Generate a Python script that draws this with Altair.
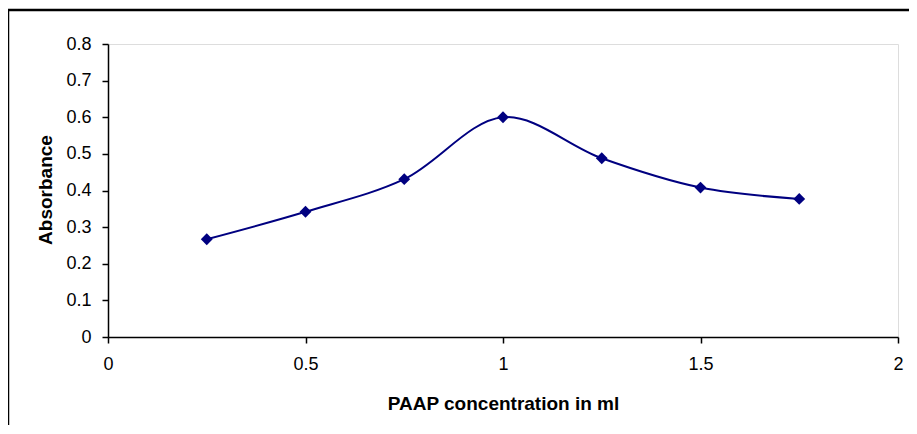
import altair as alt
import pandas as pd

conc = [0.25, 0.5, 0.75, 1.0, 1.25, 1.5, 1.75]
absorbance = [0.267, 0.342, 0.431, 0.600, 0.488, 0.408, 0.377]
x_ticks = [0, 0.5, 1, 1.5, 2]
y_ticks = [0, 0.1, 0.2, 0.3, 0.4, 0.5, 0.6, 0.7, 0.8]

df = pd.DataFrame({"conc": conc, "abs": absorbance})
FONT = "Liberation Sans"
W, H = 790, 293

x = alt.X("conc:Q", scale=alt.Scale(domain=[0, 2], nice=False, zero=False),
          axis=alt.Axis(values=x_ticks, format="~g", title="PAAP concentration in ml", grid=False,
                        domainColor="black", domainWidth=1.5, tickColor="black", tickWidth=1.5,
                        tickSize=6, labelFont=FONT, labelFontSize=18, labelColor="black",
                        labelPadding=12, labelFlush=False,
                        titleFont=FONT, titleFontSize=19, titleFontWeight="bold", titleColor="black",
                        titleX=W / 2, titleY=66, titleAlign="center", titleBaseline="middle"))
y = alt.Y("abs:Q", scale=alt.Scale(domain=[0, 0.8], nice=False),
          axis=alt.Axis(values=y_ticks, format="~g", title="Absorbance", grid=False,
                        domainColor="black", domainWidth=1.5, tickColor="black", tickWidth=1.5,
                        tickSize=6, labelFont=FONT, labelFontSize=18, labelColor="black",
                        labelPadding=11, labelFlush=False,
                        titleFont=FONT, titleFontSize=19, titleFontWeight="bold", titleColor="black",
                        titleX=-63, titleY=H / 2 - 1, titleAlign="center", titleBaseline="middle",
                        titleAngle=270))

base = alt.Chart(df)
line = base.mark_line(color="#000080", strokeWidth=2, interpolate="catmull-rom").encode(x=x, y=y)
pts = base.mark_point(shape="diamond", filled=True, color="#000080", size=140, opacity=1).encode(x=x, y=y)

one = alt.Chart(pd.DataFrame({"a": [0]}))
top_rule = one.mark_rule(color="black", strokeWidth=2.5).encode(
    x=alt.value(-100), x2=alt.value(900), y=alt.value(-34))
left_rule = one.mark_rule(color="black", strokeWidth=2.5).encode(
    x=alt.value(-100), y=alt.value(-34), y2=alt.value(420))

chart = alt.layer(line, pts, top_rule, left_rule).properties(
    width=W, height=H,
    autosize=alt.AutoSizeParams(type="none"),
    padding={"left": 100, "top": 36, "right": 11, "bottom": 88},
).configure_view(stroke=None).configure(background="white")

chart.save("out.html", embed_options={"renderer": "svg", "actions": False})
